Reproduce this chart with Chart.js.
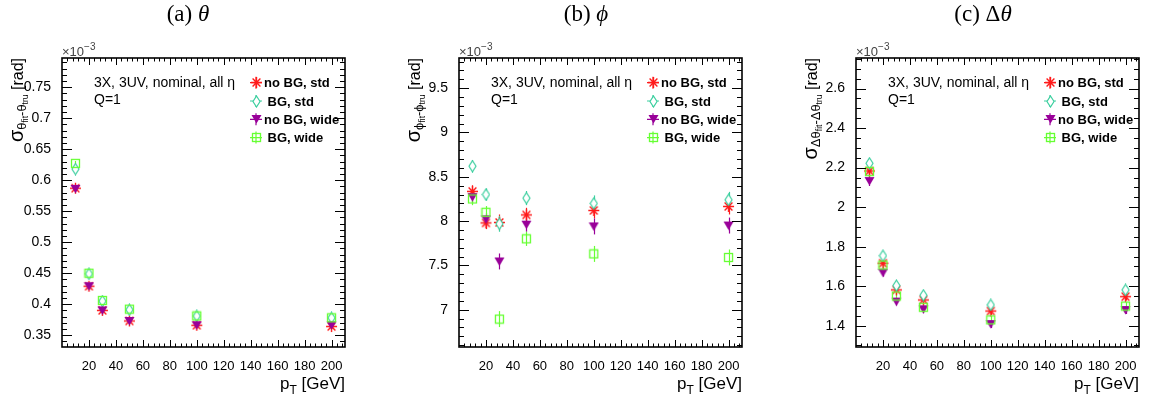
<!DOCTYPE html>
<html>
<head>
<meta charset="utf-8">
<script src="https://cdn.jsdelivr.net/npm/chart.js@4.4.1/dist/chart.umd.min.js"></script>
<style>
  body { margin: 0; background: #fff; }
  #wrap { position: relative; width: 1149px; height: 403px; }
  #wrap canvas { position: absolute; top: 0; }
</style>
</head>
<body>
<div id="wrap">
  <canvas id="cTheta" width="383" height="403" style="left:0"></canvas>
  <canvas id="cPhi" width="383" height="403" style="left:383px"></canvas>
  <canvas id="cDtheta" width="383" height="403" style="left:766px"></canvas>
</div>
<script>
// pT points shared by all panels
const ptValues = [10, 20, 30, 50, 100, 200];
const xTickValues = [20, 40, 60, 80, 100, 120, 140, 160, 180, 200];
const seriesNames = ['no BG, std', ' BG, std', 'no BG, wide', ' BG, wide'];

// (a) theta resolution [x1e-3 rad]
const thetaNoBgStd  = [0.587, 0.429, 0.390, 0.373, 0.366, 0.364];
const thetaBgStd    = [0.618, 0.449, 0.405, 0.391, 0.381, 0.378];
const thetaNoBgWide = [0.586, 0.429, 0.390, 0.373, 0.366, 0.366];
const thetaBgWide   = [0.627, 0.450, 0.406, 0.392, 0.381, 0.378];
const thetaErr      = [0.004, 0.003, 0.003, 0.003, 0.003, 0.003];
const thetaTicks    = [0.35, 0.4, 0.45, 0.5, 0.55, 0.6, 0.65, 0.7, 0.75];

// (b) phi resolution [x1e-3 rad]
const phiNoBgStd  = [8.335, 7.98, 7.985, 8.07, 8.12, 8.165];
const phiBgStd    = [8.62, 8.30, 7.97, 8.26, 8.20, 8.24];
const phiNoBgWide = [8.27, 8.02, 7.545, 7.96, 7.94, 7.95];
const phiBgWide   = [8.25, 8.10, 6.895, 7.80, 7.63, 7.59];
const phiErr      = [0.07, 0.07, 0.09, 0.08, 0.09, 0.09];
const phiTicks    = [7, 7.5, 8, 8.5, 9, 9.5];

// (c) delta theta resolution [x1e-3 rad]
const dthNoBgStd  = [2.183, 1.716, 1.581, 1.530, 1.474, 1.547];
const dthBgStd    = [2.222, 1.754, 1.603, 1.554, 1.505, 1.581];
const dthNoBgWide = [2.132, 1.668, 1.522, 1.483, 1.408, 1.479];
const dthBgWide   = [2.180, 1.707, 1.550, 1.493, 1.429, 1.499];
const dthErr      = [0.025, 0.02, 0.02, 0.02, 0.02, 0.02];
const dthTicks    = [1.4, 1.6, 1.8, 2.0, 2.2, 2.4, 2.6];

const colRed = '#ff1a1a', colTeal = '#3ccf9f', colPurple = '#990099', colGreen = '#66ff33';
const SANS = '"Liberation Sans", Arial, sans-serif';
const SERIF = '"Liberation Serif", "Times New Roman", serif';

// marker images (ROOT style markers)
const makeMarker = (w, h, draw) => {
    const c = document.createElement('canvas');
    c.width = w; c.height = h;
    draw(c.getContext('2d'), w, h);
    return c;
};
const starMarker = makeMarker(13, 13, (g) => {
    g.strokeStyle = colRed; g.lineWidth = 1.4;
    g.beginPath();
    g.moveTo(1, 6.5); g.lineTo(12, 6.5);
    g.moveTo(6.5, 1); g.lineTo(6.5, 12);
    g.moveTo(2.6, 2.6); g.lineTo(10.4, 10.4);
    g.moveTo(10.4, 2.6); g.lineTo(2.6, 10.4);
    g.stroke();
});
const diamondMarker = makeMarker(9, 13, (g) => {
    g.strokeStyle = colTeal; g.lineWidth = 1.2;
    g.beginPath();
    g.moveTo(4.5, 1); g.lineTo(8, 6.5); g.lineTo(4.5, 12); g.lineTo(1, 6.5); g.closePath();
    g.fillStyle = '#fff'; g.fill();
    g.stroke();
});
const triMarker = makeMarker(11, 10, (g) => {
    g.fillStyle = colPurple;
    g.beginPath();
    g.moveTo(0.5, 1); g.lineTo(10.5, 1); g.lineTo(5.5, 9.5); g.closePath();
    g.fill();
});
const squareMarker = makeMarker(11, 11, (g) => {
    g.strokeStyle = colGreen; g.lineWidth = 1.3;
    g.strokeRect(1.5, 1.5, 8, 8);
});
const markers = [starMarker, diamondMarker, triMarker, squareMarker];
const colors = [colRed, colTeal, colPurple, colGreen];

const textRuns = (ctx, x, y, runs) => {
    let cx = x;
    runs.forEach(r => {
        ctx.font = r.font;
        ctx.fillText(r.t, cx, y + (r.dy || 0));
        cx += ctx.measureText(r.t).width;
    });
    return cx - x;
};
const runsWidth = (ctx, runs) => runs.reduce((s, r) => { ctx.font = r.font; return s + ctx.measureText(r.t).width; }, 0);

const makePanel = (canvasId, p) => {
    const ctx = document.getElementById(canvasId);
    const W = ctx.width;

    const datasets = p.series.map((vals, i) => ({
        label: seriesNames[i],
        data: ptValues.map((x, k) => ({ x: x, y: vals[k] })),
        pointStyle: markers[i],
        pointRadius: 5,
        showLine: false,
        order: 3 - i,
        errs: p.errs
    }));

    const rootPlugin = {
        id: 'rootStyle',
        beforeDatasetsDraw(chart) {
            // vertical error bars under the markers
            const g = chart.ctx, xs = chart.scales.x, ys = chart.scales.y;
            g.save();
            g.lineWidth = 1.2;
            chart.data.datasets.forEach((ds, i) => {
                g.strokeStyle = colors[i];
                ds.data.forEach((pt, k) => {
                    const px = Math.round(xs.getPixelForValue(pt.x)) + 0.5;
                    g.beginPath();
                    g.moveTo(px, ys.getPixelForValue(pt.y - ds.errs[k]));
                    g.lineTo(px, ys.getPixelForValue(pt.y + ds.errs[k]));
                    g.stroke();
                });
            });
            g.restore();
        },
        afterDraw(chart) {
            const g = chart.ctx, a = chart.chartArea, xs = chart.scales.x, ys = chart.scales.y;
            g.save();
            g.strokeStyle = '#000';
            // ticks inside the frame on all sides
            g.lineWidth = 1;
            g.beginPath();
            for (let v = 0; v <= 210; v += 4) {
                const px = Math.round(xs.getPixelForValue(v)) + 0.5;
                if (px <= a.left + 1 || px >= a.right - 1) continue;
                const len = v % 20 === 0 ? 7 : 3.5;
                g.moveTo(px, a.bottom); g.lineTo(px, a.bottom - len);
                g.moveTo(px, a.top); g.lineTo(px, a.top + len);
            }
            const n0 = Math.ceil(p.yMin / p.yMinor - 1e-6), n1 = Math.floor(p.yMax / p.yMinor + 1e-6);
            const perMajor = Math.round(p.yMajor / p.yMinor);
            for (let n = n0; n <= n1; n++) {
                const py = Math.round(ys.getPixelForValue(n * p.yMinor)) + 0.5;
                if (py <= a.top + 1 || py >= a.bottom - 1) continue;
                const len = n % perMajor === 0 ? 10 : 5;
                g.moveTo(a.left, py); g.lineTo(a.left + len, py);
                g.moveTo(a.right, py); g.lineTo(a.right - len, py);
            }
            g.stroke();
            // frame
            g.lineWidth = 1.6;
            g.strokeRect(a.left, a.top, a.right - a.left, a.bottom - a.top);

            g.fillStyle = '#000';
            g.textBaseline = 'alphabetic';
            // panel title
            const tRuns = [{ t: p.titlePrefix, font: '23px ' + SERIF }, { t: p.titleSym, font: 'italic 23px ' + SERIF }];
            textRuns(g, p.titleX - runsWidth(g, tRuns) / 2, 21, tRuns);

            // x10^-3 exponent
            g.fillStyle = '#444';
            textRuns(g, a.left, 56, [{ t: '\u00d710', font: '13px ' + SANS }, { t: '\u22123', font: '10px ' + SANS, dy: -6 }]);
            g.fillStyle = '#000';

            // x axis title
            const xRuns = [{ t: 'p', font: '17px ' + SANS }, { t: 'T', font: '12px ' + SANS, dy: 5 }, { t: ' [GeV]', font: '17px ' + SANS }];
            textRuns(g, a.right - runsWidth(g, xRuns), 389, xRuns);

            // y axis title, rotated
            g.save();
            g.translate(a.left - 39, a.top);
            g.rotate(-Math.PI / 2);
            const yw = runsWidth(g, p.yTitle);
            textRuns(g, -yw, 0, p.yTitle);
            g.restore();

            // info text
            g.font = '14px ' + SANS;
            g.fillText('3X, 3UV, nominal, all \u03b7', a.left + 32, 87);
            g.fillText('Q=1', a.left + 32, 104);

            // legend
            const mx = a.left + 194;
            seriesNames.forEach((name, i) => {
                const my = 82.7 + i * 18.3;
                g.strokeStyle = colors[i];
                g.lineWidth = 1.2;
                g.beginPath();
                g.moveTo(mx - 6, my); g.lineTo(mx + 6, my);
                g.moveTo(mx, my - 6); g.lineTo(mx, my + 6);
                g.stroke();
                const m = markers[i];
                g.drawImage(m, Math.round(mx - m.width / 2), Math.round(my - m.height / 2));
                g.fillStyle = '#000';
                g.font = 'bold 13px ' + SANS;
                g.fillText(name, a.left + 202, my + 4.5);
            });
            g.restore();
        }
    };

    return new Chart(ctx, {
        type: 'scatter',
        data: { datasets: datasets },
        options: {
            responsive: false,
            animation: false,
            events: [],
            layout: { padding: { top: 58, right: W - p.frameRight, bottom: 0, left: 0 } },
            plugins: { legend: { display: false }, tooltip: { enabled: false }, title: { display: false } },
            scales: {
                x: {
                    type: 'linear', min: 0, max: 210,
                    grid: { display: false }, border: { display: false },
                    ticks: {
                        padding: 4, color: '#000', autoSkip: false, maxRotation: 0,
                        font: { family: SANS, size: 13 },
                        callback: (v) => String(v)
                    },
                    afterBuildTicks: (s) => { s.ticks = xTickValues.map(v => ({ value: v })); },
                    afterFit: (s) => { s.height = 403 - 347; }
                },
                y: {
                    type: 'linear', min: p.yMin, max: p.yMax,
                    grid: { display: false }, border: { display: false },
                    ticks: {
                        padding: 3, color: '#000', autoSkip: false, font: { family: SANS, size: 14 },
                        callback: (v) => String(parseFloat(v.toFixed(2)))
                    },
                    afterBuildTicks: (s) => { s.ticks = p.yTicks.map(v => ({ value: v })); },
                    afterFit: (s) => { s.width = p.frameLeft; }
                }
            }
        },
        plugins: [rootPlugin]
    });
};

const subFont = '13px ' + SANS, subsubFont = '8.5px ' + SANS, mainFont = '16px ' + SANS;
const yTitleRuns = (sym) => [
    { t: '\u03c3', font: '20px ' + SANS },
    { t: sym, font: subFont, dy: 3 }, { t: 'fit', font: subsubFont, dy: 5 },
    { t: '-' + sym, font: subFont, dy: 3 }, { t: 'tru', font: subsubFont, dy: 5 },
    { t: ' [rad]', font: mainFont }
];

makePanel('cTheta', {
    series: [thetaNoBgStd, thetaBgStd, thetaNoBgWide, thetaBgWide], errs: thetaErr,
    frameLeft: 62, frameRight: 345,
    yMin: 0.331, yMax: 0.797, yMajor: 0.05, yMinor: 0.01, yTicks: thetaTicks,
    titleX: 188, titlePrefix: '(a) ', titleSym: '\u03b8',
    yTitle: yTitleRuns('\u03b8')
});

makePanel('cPhi', {
    series: [phiNoBgStd, phiBgStd, phiNoBgWide, phiBgWide], errs: phiErr,
    frameLeft: 76, frameRight: 359,
    yMin: 6.58, yMax: 9.84, yMajor: 0.5, yMinor: 0.1, yTicks: phiTicks,
    titleX: 203, titlePrefix: '(b) ', titleSym: '\u03d5',
    yTitle: yTitleRuns('\u03d5')
});

makePanel('cDtheta', {
    series: [dthNoBgStd, dthBgStd, dthNoBgWide, dthBgWide], errs: dthErr,
    frameLeft: 90, frameRight: 373,
    yMin: 1.292, yMax: 2.755, yMajor: 0.2, yMinor: 0.05, yTicks: dthTicks,
    titleX: 217, titlePrefix: '(c) \u0394', titleSym: '\u03b8',
    yTitle: yTitleRuns('\u0394\u03b8')
});
</script>
</body>
</html>
